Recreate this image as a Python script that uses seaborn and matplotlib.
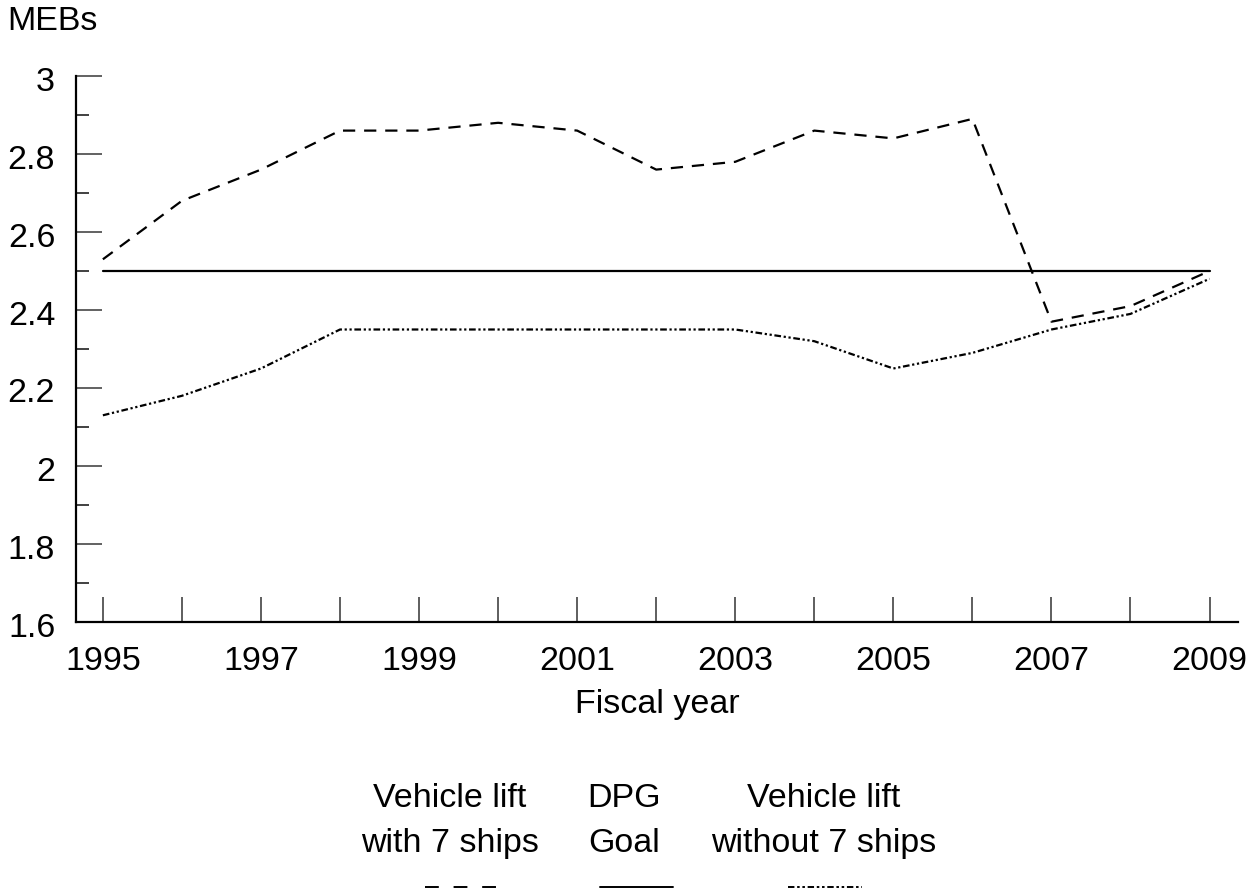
import matplotlib
matplotlib.use("Agg")
import matplotlib.pyplot as plt
from matplotlib.lines import Line2D
from matplotlib.ticker import MultipleLocator
from matplotlib.transforms import ScaledTranslation
import seaborn as sns
import pandas as pd

years = list(range(1995, 2010))
with_ships = [2.53, 2.68, 2.76, 2.86, 2.86, 2.88, 2.86, 2.76, 2.78, 2.86, 2.84, 2.89, 2.37, 2.41, 2.50]
goal = [2.5] * 15
without_ships = [2.13, 2.18, 2.25, 2.35, 2.35, 2.35, 2.35, 2.35, 2.35, 2.32, 2.25, 2.29, 2.35, 2.39, 2.48]
series_labels = ["Vehicle lift\nwith 7 ships", "DPG\nGoal", "Vehicle lift\nwithout 7 ships"]
xtick_labels = ["1995", "1997", "1999", "2001", "2003", "2005", "2007", "2009"]
ytick_values = [1.6, 1.8, 2.0, 2.2, 2.4, 2.6, 2.8, 3.0]
ytick_labels = ["1.6", "1.8", "2", "2.2", "2.4", "2.6", "2.8", "3"]

sns.set_style("white")
plt.rcParams['font.family'] = ['Liberation Sans', 'DejaVu Sans']
plt.rcParams['text.color'] = 'black'
plt.rcParams['axes.labelcolor'] = 'black'

FS = 24.5
fig = plt.figure(figsize=(12.54, 8.92), dpi=100)
ax = fig.add_axes([76/1254, 1 - 622/892, (1238-76)/1254, (622-76)/892])

df = pd.DataFrame({"year": years, "with": with_ships, "goal": goal, "without": without_ships})
styles = [(0, (5.5, 4)), "-", (0, (3, 1.2, 1, 1.2, 1, 1.2))]
cols = ["with", "goal", "without"]
for c, ls in zip(cols, styles):
    sns.lineplot(data=df, x="year", y=c, ax=ax, color="black", linestyle=ls, linewidth=1.6)

ax.set_xlim(1994.66, 2009.36)
ax.set_ylim(1.6, 3.0)
ax.set_xticks([int(t) for t in xtick_labels])
ax.set_xticklabels(xtick_labels)
ax.xaxis.set_minor_locator(MultipleLocator(1))
ax.set_yticks(ytick_values)
ax.set_yticklabels(ytick_labels)
ax.yaxis.set_minor_locator(MultipleLocator(0.1))

ax.tick_params(axis="x", which="both", bottom=True, direction="in", length=18, width=1.1,
               color="#333333", labelsize=FS, labelcolor="black", pad=17)
ax.tick_params(axis="y", which="major", left=True, direction="in", length=19, width=1.3,
               color="#555555", labelsize=FS, labelcolor="black", pad=15)
ax.tick_params(axis="y", which="minor", left=True, direction="in", length=9, width=1.3,
               color="#333333")
for s in ["top", "right"]:
    ax.spines[s].set_visible(False)
for s in ["left", "bottom"]:
    ax.spines[s].set_color("black")
    ax.spines[s].set_linewidth(1.6)

# y tick labels sit slightly below their ticks in the reference
offset = ScaledTranslation(0, -2.5/100, fig.dpi_scale_trans)
for lab in ax.get_yticklabels():
    lab.set_transform(lab.get_transform() + offset)

ax.set_xlabel("Fiscal year", fontsize=FS, labelpad=9, color="black")
ax.set_ylabel("")
fig.text(7/1254, 1 - 21/892, "MEBs", fontsize=FS, ha="left", va="center", color="black")

# legend: labels centered with line samples beneath
centers = [450, 624, 824]
sample_x = [(425, 497), (600, 673), (788, 862)]
sample_styles = [(0, (7.1, 7.6)), "-", (0, (3.3, 1.4, 1.3, 1.4, 1.3, 1.4))]
for cx, (x0, x1), lab, ls in zip(centers, sample_x, series_labels, sample_styles):
    fig.text(cx/1254, 1 - 821/892, lab, fontsize=FS, ha="center", va="center",
             linespacing=1.62, color="black")
    fig.add_artist(Line2D([x0/1254, x1/1254], [1 - 887/892, 1 - 887/892],
                          transform=fig.transFigure, color="black", linestyle=ls, linewidth=1.4))

fig.savefig("out.png", dpi=100)
